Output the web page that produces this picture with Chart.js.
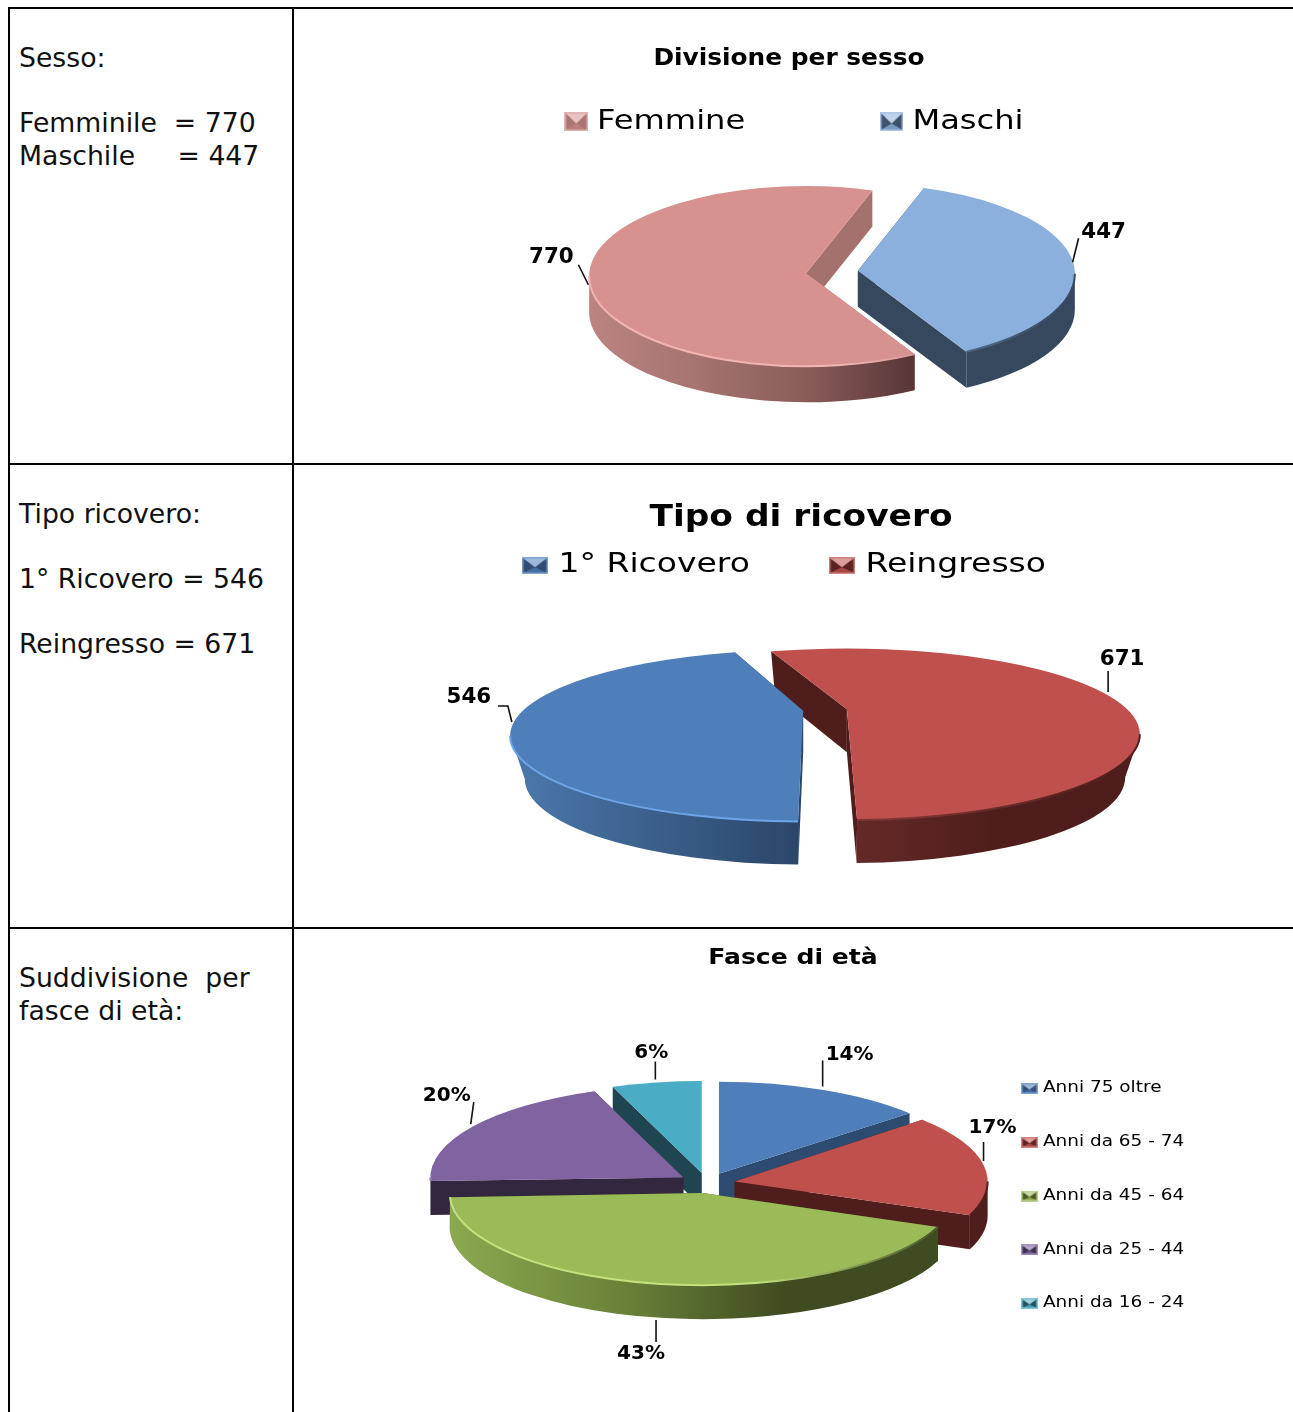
<!DOCTYPE html>
<html lang="it">
<head>
<meta charset="utf-8">
<title>Ricoveri</title>
<script src="https://cdn.jsdelivr.net/npm/chart.js@4"></script>
<style>
html, body { margin: 0; padding: 0; background: #fff; overflow: hidden; width: 1293px; height: 1412px; }
table { position: absolute; left: 8px; top: 7px; width: 1310px; border-spacing: 0; table-layout: fixed; }
td { border-left: 2px solid #000; border-top: 2px solid #000; padding: 0; vertical-align: top; box-sizing: border-box; }
td.info { width: 284px; padding: 33px 0 0 9px; font: 26.7px/32.5px "DejaVu Sans", Verdana, sans-serif; color: #111; white-space: pre; }
td.graph { position: relative; }
canvas { display: block; }
.r1 td { height: 456px; }
.r2 td { height: 464px; }
.r3 td { height: 500px; }
</style>
</head>
<body>
<table>
  <tr class="r1">
    <td class="info">Sesso:

Femminile  = 770
Maschile     = 447</td>
    <td class="graph"><canvas id="sessoChart" width="1000" height="454"></canvas></td>
  </tr>
  <tr class="r2">
    <td class="info">Tipo ricovero:

1° Ricovero = 546

Reingresso = 671</td>
    <td class="graph"><canvas id="ricoveroChart" width="1000" height="462"></canvas></td>
  </tr>
  <tr class="r3">
    <td class="info">Suddivisione  per
fasce di età:</td>
    <td class="graph"><canvas id="etaChart" width="1000" height="484"></canvas></td>
  </tr>
</table>
<script>
const FONT = '"DejaVu Sans", Verdana, sans-serif';

// data
const sessoLabels = ['Femmine', 'Maschi'];
const sessoValues = [770, 447];
const ricoveroLabels = ['1° Ricovero', 'Reingresso'];
const ricoveroValues = [546, 671];
const etaLabels = ['Anni 75 oltre', 'Anni da 65 - 74', 'Anni da 45 - 64', 'Anni da 25 - 44', 'Anni da 16 - 24'];
const etaValues = [14, 17, 43, 20, 6];

// colours: top, side face, wall gradient left to right, rim highlight
const sessoColors = [
    { top: '#d79290', face: '#a5716d', wall: ['#bb8480', '#a57370', '#8a5d5a', '#573636', '#573636'], rim: '#f2b4b0' },
    { top: '#8cb0dd', face: '#36485e', wall: ['#36485e', '#36485e'], rim: '#5f7a9c' }
];
const ricoveroColors = [
    { top: '#4f7fba', face: '#2b4669', wall: ['#4b79ad', '#2a4568', '#2a4568'], rim: '#6da5e8' },
    { top: '#bf504d', face: '#4f1e1c', wall: ['#6e2c2a', '#6e2c2a', '#662a28', '#4f1e1c', '#4f1e1c'], rim: '#7e3533' }
];
const etaColors = [
    { top: '#4f7fba', face: '#2d4a70', wall: ['#2d4a70', '#2d4a70'], rim: '#3f6594' },
    { top: '#bf504d', face: '#4f1e1c', wall: ['#4f1e1c', '#4f1e1c'], rim: '#7e3533' },
    { top: '#9bbb59', face: '#3f4b20', wall: ['#8ba94f', '#6b8339', '#3f4b20', '#3f4b20'], rim: '#c4e27c' },
    { top: '#8064a2', face: '#33263f', wall: ['#33263f', '#33263f'], rim: '#9a7fbc' },
    { top: '#4bacc6', face: '#1f4650', wall: ['#1f4650', '#1f4650'], rim: '#3e90a6' }
];

function legendIcon(c, w, h) {
    const cv = document.createElement('canvas');
    cv.width = w;
    cv.height = h;
    const x = cv.getContext('2d');
    const tri = (col, alpha, pts) => {
        x.globalAlpha = alpha;
        x.fillStyle = col;
        x.beginPath();
        pts.forEach(p => x.lineTo(p[0], p[1]));
        x.closePath();
        x.fill();
    };
    const b = 1.5;
    const m = [w / 2, h * 0.6];
    const tl = [b, b], tr = [w - b, b], br = [w - b, h - b], bl = [b, h - b];
    tri(c.top, 1, [[0, 0], [w, 0], [w, h], [0, h]]);
    tri('#fff', 0.3, [[0, 0], [w, 0], [w, h], [0, h]]);
    tri(c.top, 1, [tl, tr, br, bl]);
    tri(c.face, 0.9, [tl, m, bl]);
    tri(c.face, 0.9, [tr, m, br]);
    tri('#000', 0.12, [bl, br, m]);
    tri('#fff', 0.45, [tl, tr, m]);
    x.globalAlpha = 1;
    return cv;
}

// the tilted, exploded pie: angles and radius come from Chart.js arc elements
function drawSlice(ctx, el, c, p, nudge) {
    const mid = (el.startAngle + el.endAngle) / 2;
    const R = el.outerRadius;
    const ry = R * p.k;
    const s = p.shrink;
    const start = el.startAngle + nudge[0] * Math.PI / 180;
    const end = el.endAngle + nudge[1] * Math.PI / 180;
    const cx = p.x + Math.cos(mid) * p.explode;
    const cy = p.y + Math.sin(mid) * p.explode * p.k;
    const ax = cx, ay = cy - p.lift;
    const d = p.depth;

    // cut faces
    ctx.fillStyle = c.face;
    [start, end].forEach(a => {
        ctx.beginPath();
        ctx.moveTo(ax, ay);
        ctx.lineTo(cx + Math.cos(a) * R, cy + Math.sin(a) * ry);
        ctx.lineTo(cx + Math.cos(a) * R * s, cy + Math.sin(a) * ry + d);
        ctx.lineTo(ax, ay + d);
        ctx.closePath();
        ctx.fill();
    });

    // front wall
    const grad = ctx.createLinearGradient(cx - R, 0, cx + R, 0);
    c.wall.forEach((col, i) => grad.addColorStop(i / (c.wall.length - 1), col));
    const fronts = [];
    for (let n = -1; n <= 2; n++) {
        const a0 = Math.max(start, n * 2 * Math.PI);
        const a1 = Math.min(end, n * 2 * Math.PI + Math.PI);
        if (a1 > a0) fronts.push([a0, a1]);
    }
    ctx.fillStyle = grad;
    fronts.forEach(f => {
        ctx.beginPath();
        ctx.ellipse(cx, cy, R, ry, 0, f[0], f[1]);
        ctx.ellipse(cx, cy + d, R * s, ry, 0, f[1], f[0], true);
        ctx.closePath();
        ctx.fill();
    });

    // top
    ctx.fillStyle = c.top;
    ctx.beginPath();
    ctx.moveTo(ax, ay);
    ctx.ellipse(cx, cy, R, ry, 0, start, end);
    ctx.closePath();
    ctx.fill();

    // rim highlight, fading towards the dark side
    const rim = ctx.createLinearGradient(cx - R, 0, cx + R, 0);
    rim.addColorStop(0, c.rim);
    rim.addColorStop(0.6, c.rim);
    rim.addColorStop(1, c.face);
    ctx.strokeStyle = rim;
    ctx.lineWidth = 2;
    fronts.forEach(f => {
        ctx.beginPath();
        ctx.ellipse(cx, cy, R, ry, 0, f[0], f[1]);
        ctx.stroke();
    });
}

function drawLabel(ctx, el, text, spec, p) {
    const mid = (el.startAngle + el.endAngle) / 2;
    const r = el.outerRadius;
    const cx = p.x + Math.cos(mid) * p.explode;
    const cy = p.y + Math.sin(mid) * p.explode * p.k;
    const rx = cx + Math.cos(mid) * r;
    const ry = cy + Math.sin(mid) * r * p.k;
    ctx.strokeStyle = '#111';
    ctx.lineWidth = 1.6;
    ctx.beginPath();
    spec.line.forEach(q => ctx.lineTo(rx + q[0], ry + q[1]));
    ctx.stroke();
    ctx.save();
    ctx.translate(rx + spec.text[0], ry + spec.text[1]);
    ctx.scale(p.labelStretch, 1);
    ctx.fillStyle = '#000';
    ctx.font = 'bold ' + p.labelSize + 'px ' + FONT;
    ctx.textAlign = 'center';
    ctx.textBaseline = 'middle';
    ctx.fillText(text, 0, 0);
    ctx.restore();
}

// moves and stretches a title or legend block, the source picture is stretched too
function placeBox(chart, box, t) {
    const draw = box.draw;
    box.draw = function (area) {
        const ctx = chart.ctx;
        ctx.save();
        ctx.translate(t.x, t.y);
        ctx.scale(t.sx, 1);
        ctx.translate(-(box.left + box.right) / 2, -(box.top + box.bottom) / 2);
        draw.call(box, area);
        ctx.restore();
    };
}

const tiltedPie = {
    id: 'tiltedPie',
    afterLayout(chart, args, opts) {
        if (chart.$placed) return;
        chart.$placed = true;
        placeBox(chart, chart.titleBlock, opts.titlePos);
        placeBox(chart, chart.legend, opts.legendPos);
    },
    beforeDatasetsDraw(chart, args, opts) {
        const ctx = chart.ctx;
        const arcs = chart.getDatasetMeta(0).data;
        const order = arcs.map((el, i) => i).sort((i, j) => {
            const mi = (arcs[i].startAngle + arcs[i].endAngle) / 2;
            const mj = (arcs[j].startAngle + arcs[j].endAngle) / 2;
            return Math.sin(mi) - Math.sin(mj);
        });
        ctx.save();
        order.forEach(i => drawSlice(ctx, arcs[i], opts.colors[i], opts, opts.nudge[i] || [0, 0]));
        arcs.forEach((el, i) => drawLabel(ctx, el, opts.texts[i], opts.labels[i], opts));
        ctx.restore();
        return false;
    }
};

function makePie(id, labels, values, colors, cfg) {
    return new Chart(document.getElementById(id), {
        type: 'pie',
        data: { labels: labels, datasets: [{ data: values, backgroundColor: colors.map(c => c.top), borderWidth: 0, clip: false }] },
        options: {
            responsive: false,
            animation: false,
            rotation: cfg.rotation,
            radius: cfg.radius,
            events: [],
            plugins: {
                title: { display: true, text: cfg.title, color: '#000', font: { family: FONT, size: cfg.titleSize, weight: 'bold' } },
                tooltip: { enabled: false },
                legend: {
                    position: cfg.legendSide,
                    labels: {
                        color: '#000',
                        font: { family: FONT, size: cfg.legendSize },
                        padding: cfg.legendPadding,
                        usePointStyle: true,
                        pointStyleWidth: cfg.iconBox,
                        generateLabels: c => c.data.labels.map((text, i) => ({
                            text: text,
                            index: i,
                            hidden: false,
                            lineWidth: 0,
                            fontColor: '#000',
                            pointStyle: legendIcon(colors[i], cfg.icon[0], cfg.icon[1])
                        }))
                    }
                },
                tiltedPie: {
                    colors: colors,
                    x: cfg.x, y: cfg.y, k: cfg.k, lift: cfg.lift, depth: cfg.depth, explode: cfg.explode,
                    shrink: cfg.shrink || 1, nudge: cfg.nudge || [],
                    labelSize: cfg.labelSize, labelStretch: cfg.labelStretch,
                    texts: cfg.texts, labels: cfg.labelSpots,
                    titlePos: cfg.titlePos, legendPos: cfg.legendPos
                }
            }
        },
        plugins: [tiltedPie]
    });
}

makePie('sessoChart', sessoLabels, sessoValues, sessoColors, {
    title: 'Divisione per sesso', titleSize: 23, titlePos: { x: 495, y: 50, sx: 1.08 },
    legendSide: 'top', legendSize: 27, legendPadding: 119, icon: [20, 19], iconBox: 8, legendPos: { x: 503.5, y: 58, sx: 1.19 },
    rotation: 150, radius: 217, x: 538, y: 266, k: 0.415, lift: 3, depth: 36, explode: 26,
    labelSize: 21, labelStretch: 1.02,
    texts: sessoValues.map(String),
    labelSpots: [
        { line: [[-2, -1], [-12, -21]], text: [-39, -28] },
        { line: [[-1, -2], [5, -26]], text: [30, -32] }
    ]
});

// this picture has more perspective: the lower edge narrows and the cuts lean
makePie('ricoveroChart', ricoveroLabels, ricoveroValues, ricoveroColors, {
    title: 'Tipo di ricovero', titleSize: 31, titlePos: { x: 507, y: 53, sx: 1.11 },
    legendSide: 'top', legendSize: 26, legendPadding: 67, icon: [21, 17], iconBox: 11, legendPos: { x: 493, y: 72, sx: 1.27 },
    rotation: 183, radius: 293, x: 531, y: 270, k: 0.293, lift: 25, depth: 43, explode: 22, shrink: 0.95,
    nudge: [[-2, 2], [0.5, -5]],
    labelSize: 21, labelStretch: 1.02,
    texts: ricoveroValues.map(String),
    labelSpots: [
        { line: [[0, -23], [-4, -39], [-14, -39]], text: [-43, -47] },
        { line: [[-30, -33], [-30, -54]], text: [-16, -65] }
    ]
});

makePie('etaChart', etaLabels, etaValues, etaColors, {
    title: 'Fasce di età', titleSize: 22, titlePos: { x: 499, y: 29, sx: 1.14 },
    legendSide: 'right', legendSize: 15, legendPadding: 38.7, icon: [14, 11], iconBox: 7, legendPos: { x: 793, y: 267, sx: 1.23 },
    rotation: 0, radius: 253, x: 413, y: 254, k: 0.364, lift: 0, depth: 34, explode: 28,
    nudge: [[0, -1.5], [-2.5, 0], [0, 1], [1.5, 1], [1, 0]],
    labelSize: 20, labelStretch: 1,
    texts: etaValues.map(v => v + '%'),
    labelSpots: [
        { line: [[-4, -4], [-4, -30]], text: [23, -36] },
        { line: [[-1, -6], [-1, -25]], text: [8, -39] },
        { line: [[-7, 36], [-7, 58]], text: [-22, 70] },
        { line: [[1, -4], [4, -26]], text: [-23, -32] },
        { line: [[1, -3], [1, -21]], text: [-3, -30] }
    ]
});
</script>
</body>
</html>
